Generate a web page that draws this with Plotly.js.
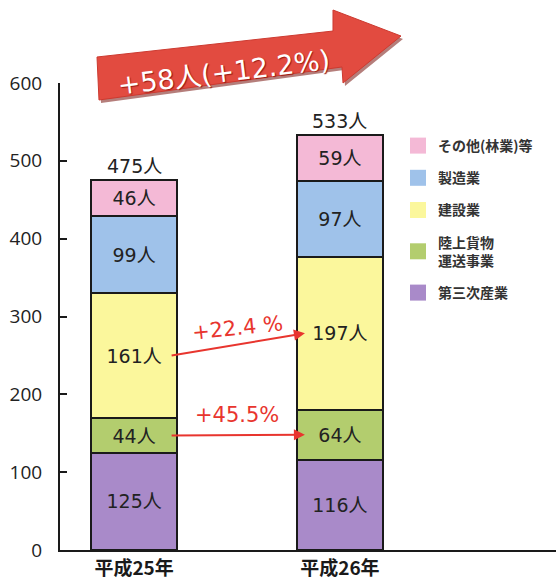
<!DOCTYPE html>
<html>
<head>
<meta charset="utf-8">
<script src="https://cdn.plot.ly/plotly-3.0.1.min.js"></script>
<style>html,body{margin:0;padding:0;background:#fff;}#chart{width:556px;height:580px;}</style>
</head>
<body>
<div id="chart"></div>
<script>
// ---- data ----
const categories = ['平成25年', '平成26年'];
const seriesNames = ['第三次産業', '陸上貨物<br>運送事業', '建設業', '製造業', 'その他(林業)等'];
const tertiary = [125, 116];
const freight = [44, 64];
const construction = [161, 197];
const manufacturing = [99, 97];
const others = [46, 59];
const totals = [475, 533];
const totalLabels = ['475人', '533人'];
const changeLabels = ['+22.4 %', '+45.5%'];
const headline = '+58人(+12.2%)';

const seriesValues = [tertiary, freight, construction, manufacturing, others];
const colors = ['#a98ac9', '#b3cd6e', '#fbf79c', '#9fc2ea', '#f4b9d6'];
const JP = '"Noto Sans CJK JP", "DejaVu Sans", sans-serif';
const NUM = '"DejaVu Sans", "Noto Sans CJK JP", sans-serif';

// pixel -> paper helpers (plot area: x 60..556, y 83..550)
const L = 60, R = 0, T = 83, B = 30, W = 556, H = 580;
const pw = W - L - R, ph = H - T - B;
const px = v => (v - L) / pw;
const py = v => (H - B - v) / ph;

const traces = [];
seriesValues.forEach((vals, i) => {
  traces.push({
    type: 'bar', x: categories, y: vals, name: seriesNames[i],
    width: 0.42, showlegend: false,
    marker: {color: colors[i], line: {color: '#1a1a1a', width: 2}},
    texttemplate: '%{y}人', textposition: 'inside', insidetextanchor: 'middle',
    constraintext: 'none',
    textfont: {family: NUM, size: 19, color: '#222'},
    hoverinfo: 'skip'
  });
});
// legend entries (top to bottom like the reference)
for (let i = seriesValues.length - 1; i >= 0; i--) {
  traces.push({
    type: 'scatter', mode: 'markers', x: [null], y: [null], name: seriesNames[i],
    legendgroup: 'g' + i, showlegend: true,
    marker: {symbol: 'square', size: 16, color: colors[i]},
    hoverinfo: 'skip'
  });
}

// segment midpoints computed from data
function mid(seriesIdx, catIdx) {
  let base = 0;
  for (let s = 0; s < seriesIdx; s++) base += seriesValues[s][catIdx];
  return base + seriesValues[seriesIdx][catIdx] / 2;
}

const annotations = [];
totals.forEach((t, i) => {
  annotations.push({x: i, y: t, xref: 'x', yref: 'y', text: totalLabels[i], showarrow: false,
    yanchor: 'bottom', yshift: 1, font: {family: NUM, size: 19, color: '#222'}});
});
// red arrows between bars
[[2, 0], [1, 1]].forEach(([s, k]) => {
  annotations.push({x: 0.83, y: mid(s, 1), ax: 0.175, ay: mid(s, 0), xref: 'x', yref: 'y',
    axref: 'x', ayref: 'y', text: '', showarrow: true, arrowhead: 2, arrowsize: 1.1,
    arrowwidth: 2, arrowcolor: '#e8352e', standoff: 0, startstandoff: 0});
});
annotations.push({x: 0.5, y: mid(2, 0) + 36, xref: 'x', yref: 'y', text: changeLabels[0],
  showarrow: false, textangle: -6, font: {family: NUM, size: 21, color: '#e8352e'}});
annotations.push({x: 0.5, y: mid(1, 0) + 26, xref: 'x', yref: 'y', text: changeLabels[1],
  showarrow: false, textangle: 0, font: {family: NUM, size: 21, color: '#e8352e'}});
// headline on big arrow
annotations.push({x: px(223), y: py(72), xref: 'paper', yref: 'paper', xanchor: 'center', yanchor: 'middle',
  text: headline, showarrow: false, textangle: -7,
  font: {family: NUM, size: 27, color: '#ffffff', shadow: '1px 1px 1px #9a1a14'}});

function pathFrom(pts, dx, dy) {
  return pts.map((p, i) => (i ? 'L' : 'M') + px(p[0] + dx).toFixed(4) + ',' + py(p[1] + dy).toFixed(4)).join(' ') + ' Z';
}
const arrowPts = [[97, 57], [333, 31], [333, 10], [401, 36], [343, 83], [342, 67], [99, 100]];
const shapes = [
  {type: 'path', xref: 'paper', yref: 'paper', path: pathFrom(arrowPts, 2, 3),
   fillcolor: 'rgba(120,20,15,0.55)', line: {width: 0}, layer: 'above'},
  {type: 'path', xref: 'paper', yref: 'paper', path: pathFrom(arrowPts, 0, 0),
   fillcolor: '#e24b40', line: {color: '#cc3a30', width: 1}, layer: 'above'}
];

const layout = {
  width: W, height: H,
  margin: {l: L, r: R, t: T, b: B, pad: 0},
  paper_bgcolor: '#ffffff', plot_bgcolor: '#ffffff',
  barmode: 'stack', showlegend: true,
  xaxis: {type: 'category', categoryorder: 'array', categoryarray: categories,
    range: [-0.36, 2.05], showline: true, linecolor: '#1a1a1a', linewidth: 2,
    ticks: '', showgrid: false, zeroline: false,
    tickfont: {family: JP, size: 19, color: '#1a1a1a', weight: 'bold'}},
  yaxis: {range: [0, 600], dtick: 100, tick0: 0, showline: true, linecolor: '#1a1a1a',
    linewidth: 2, ticks: 'inside', ticklen: 7, tickwidth: 2, tickcolor: '#1a1a1a',
    showgrid: false, zeroline: false, ticklabelstandoff: 12,
    tickfont: {family: '"Open Sans", sans-serif', size: 19, color: '#222'}},
  legend: {x: px(398), xanchor: 'left', y: py(130), yanchor: 'top', orientation: 'v',
    traceorder: 'grouped', tracegroupgap: 11, bgcolor: 'rgba(0,0,0,0)',
    font: {family: JP, size: 14, color: '#333', weight: 'bold'}},
  annotations: annotations,
  shapes: shapes
};

Plotly.newPlot('chart', traces, layout, {displayModeBar: false, staticPlot: true});
</script>
</body>
</html>
